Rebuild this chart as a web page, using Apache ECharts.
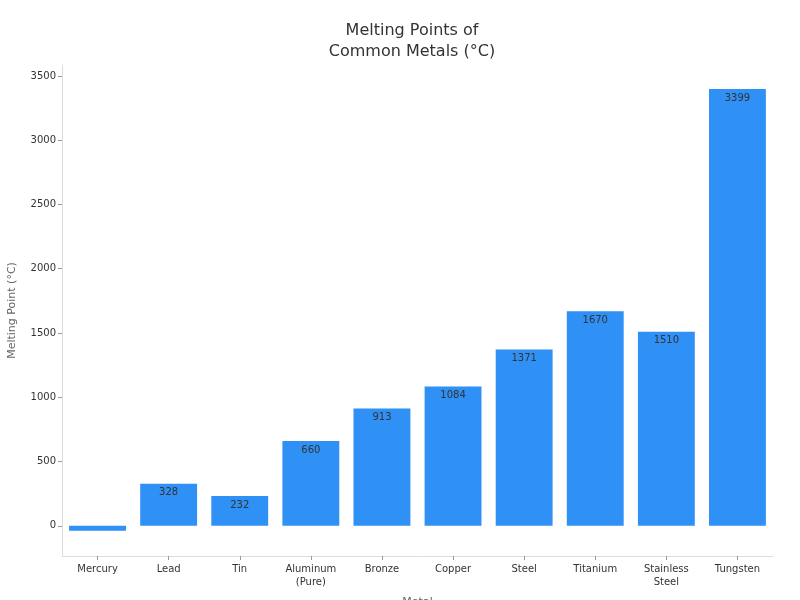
<!DOCTYPE html>
<html>
<head>
<meta charset="utf-8">
<script src="https://cdn.jsdelivr.net/npm/echarts@6/dist/echarts.min.js"></script>
<style>
  html, body { margin: 0; padding: 0; background: #fff; }
  #main { width: 800px; height: 600px; }
</style>
</head>
<body>
<div id="main"></div>
<script>
// data
var metals = ['Mercury', 'Lead', 'Tin', 'Aluminum\n(Pure)', 'Bronze', 'Copper', 'Steel', 'Titanium', 'Stainless\nSteel', 'Tungsten'];
var meltingPoints = [-39, 328, 232, 660, 913, 1084, 1371, 1670, 1510, 3399];
var yTicks = [0, 500, 1000, 1500, 2000, 2500, 3000, 3500];

var barData = meltingPoints.map(function (v) {
    // the tiny negative bar has no visible label
    return v < 0 ? {value: v, label: {show: false}} : v;
});

var chart = echarts.init(document.getElementById('main'));

var option = {
    backgroundColor: '#fff',
    textStyle: {fontFamily: 'DejaVu Sans'},
    title: {
        text: 'Melting Points of\nCommon Metals (°C)',
        left: 407,
        top: 15,
        textAlign: 'center',
        textStyle: {fontSize: 16, fontWeight: 'normal', color: '#333', lineHeight: 21, fontFamily: 'DejaVu Sans'}
    },
    grid: {left: 62, right: 27, top: 65, bottom: 44, outerBoundsMode: 'none'},
    xAxis: {
        type: 'category',
        data: metals,
        name: 'Metal',
        nameLocation: 'middle',
        nameGap: 41,
        nameTextStyle: {color: '#666', fontSize: 11},
        axisLine: {onZero: false, lineStyle: {color: '#ddd'}},
        axisTick: {show: true, alignWithLabel: true, length: 4, lineStyle: {color: '#999'}},
        axisLabel: {color: '#333', fontSize: 10, margin: 7, lineHeight: 13, interval: 0}
    },
    yAxis: {
        type: 'value',
        min: -235,
        max: 3585,
        name: 'Melting Point (°C)',
        nameLocation: 'middle',
        nameGap: 44,
        nameTextStyle: {color: '#666', fontSize: 11},
        axisLine: {show: true, lineStyle: {color: '#ddd'}},
        axisTick: {show: true, length: 4, lineStyle: {color: '#999'}, customValues: yTicks},
        axisLabel: {
            color: '#333', fontSize: 10, margin: 6, customValues: yTicks,
            formatter: function (v) { return String(v); }
        },
        splitLine: {show: false}
    },
    series: [
        {
            name: 'Melting Point',
            type: 'bar',
            data: barData,
            barWidth: '80%',
            itemStyle: {color: '#2f90f5'},
            label: {
                show: true,
                position: 'insideTop',
                distance: 4,
                color: '#333',
                fontSize: 10
            }
        }
    ]
};

chart.setOption(option);
</script>
</body>
</html>
